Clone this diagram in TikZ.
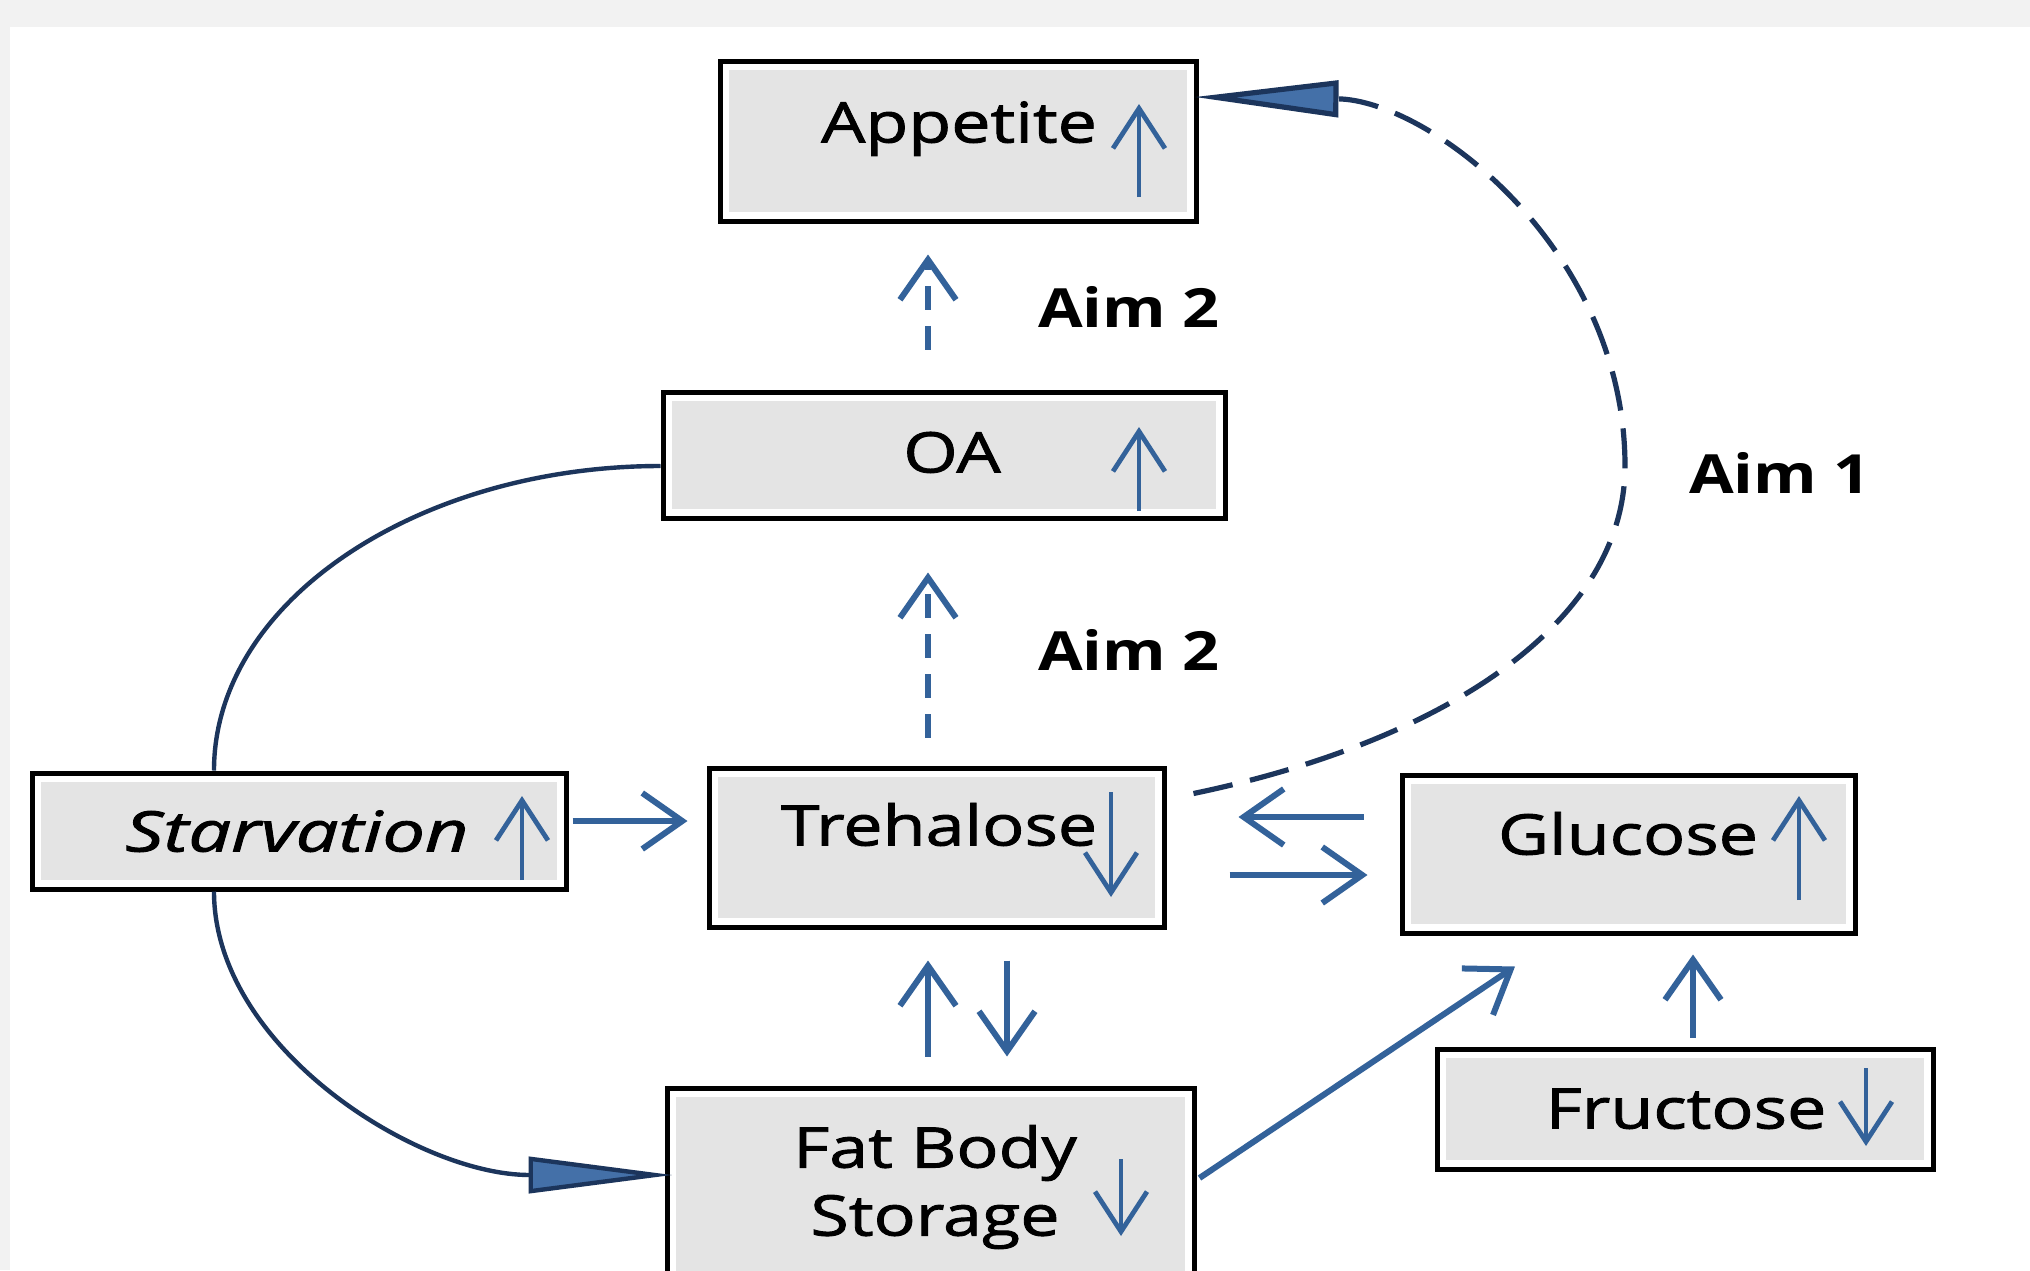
\documentclass[tikz,border=0pt]{standalone}
\usepackage{fontspec}
\usepackage{graphicx}
\setmainfont{Open Sans}[FakeStretch=1.2]
\newfontfamily\boxfont{Open Sans}[FakeStretch=1.25, FakeBold=1.6]
\usetikzlibrary{arrows.meta,calc}
\definecolor{bgray}{HTML}{F2F2F2}
\definecolor{boxgray}{HTML}{E4E4E4}
\definecolor{arrblue}{HTML}{33629A}
\definecolor{navy}{HTML}{1C355C}
\definecolor{headblue}{HTML}{4470A8}
\tikzset{
  box/.style={draw=black, line width=2.5pt, fill=white, inner sep=0pt,
    path picture={\fill[boxgray] ([shift={(4.5pt,-4.5pt)}]path picture bounding box.north west) rectangle ([shift={(-4.5pt,4.5pt)}]path picture bounding box.south east);}},
  txt/.style={font=\boxfont\fontsize{28}{34}\selectfont, anchor=base, inner sep=0pt, text=black},
  itxt/.style={font=\boxfont\fontsize{28}{34}\selectfont\itshape, anchor=base, inner sep=0pt, text=black},
  aim/.style={font=\fontsize{27}{32}\selectfont\bfseries, anchor=base, inner sep=0pt, text=black},
  inarrow/.style={draw=arrblue, line width=2.4pt, -{Straight Barb[length=20pt,width=26pt]}},
  barrow/.style={draw=arrblue, line width=3pt, -{Straight Barb[length=20pt,width=28pt]}},
  darrow/.style={draw=arrblue, line width=3pt, dash pattern=on 12pt off 8pt, -{Straight Barb[length=20pt,width=28pt]}},
  curve/.style={draw=navy, line width=2.2pt},
  dcurve/.style={draw=navy, line width=2.6pt, dash pattern=on 20pt off 9pt},
  bighead/.style={-{Triangle[length=72pt,width=18pt,fill=headblue]}}
}
\begin{document}
\begin{tikzpicture}[x=0.5pt,y=-0.5pt]
\clip (0,0) rectangle (2030,1270);
\fill[bgray] (0,0) rectangle (2030,1270);
\fill[white] (10,27) rectangle (2030,1270);

% boxes
\node[box, minimum width=238pt, minimum height=80pt] (app) at (958,141) {};
\node[box, minimum width=281pt, minimum height=63pt] (oa) at (944,455) {};
\node[box, minimum width=267pt, minimum height=58pt] (starv) at (299,831) {};
\node[box, minimum width=227.5pt, minimum height=79.5pt] (treh) at (936.5,847.5) {};
\node[box, minimum width=226.5pt, minimum height=79pt] (gluc) at (1628.5,854) {};
\node[box, minimum width=248pt, minimum height=60pt] (fruct) at (1685,1109) {};
\node[box, minimum width=263.5pt, minimum height=101pt] (fat) at (930.5,1189) {};

% texts
\node[txt] (appT) at (959,142.5) {Appetite};
\node[txt] (oaT) at (952,472.5) {OA};
\node[itxt] (starvT) at (297,851.5) {\scalebox{1.08}[1]{Starvation}};
\node[txt] (trehT) at (939,845.5) {Trehalose};
\node[txt] (glucT) at (1628,854.5) {Glucose};
\node[txt] (fructT) at (1686,1128.5) {Fructose};
\node[txt, align=center, anchor=center] (fatT) at (935,1187) {Fat Body\\Storage};
\node[aim] (aim2a) at (1129,327.5) {Aim 2};
\node[aim] (aim2b) at (1129,670.5) {Aim 2};
\node[aim] (aim1) at (1780,493.5) {Aim 1};

% indicator arrows inside boxes
\draw[inarrow] (1139,197) -- (1139,104);
\draw[inarrow] (1139,511) -- (1139,427);
\draw[inarrow] (522,880) -- (522,796);
\draw[inarrow] (1111,792) -- (1111,897);
\draw[inarrow] (1799,900) -- (1799,796);
\draw[inarrow] (1866,1068) -- (1866,1146);
\draw[inarrow] (1121,1159) -- (1121,1236);

% connectors
\draw[barrow] ($(starv.east)+(4,-10)$) -- ($(treh.west)+(-19,-26.5)$);
\draw[barrow] ($(gluc.west)+(-36,-37)$) -- ($(treh.east)+(72,-30.5)$);
\draw[barrow] ($(treh.east)+(63,27.5)$) -- ($(gluc.west)+(-32,21)$);
\draw[barrow] ($(fat.north)+(-2.5,-29)$) -- ($(treh.south)+(-8.5,31)$);
\draw[barrow] ($(treh.south)+(70.5,31)$) -- ($(fat.north)+(76.5,-29)$);
\draw[barrow] ($(fat.east)+(3,-11)$) -- ($(gluc.south)+(-113.5,31)$);
\draw[barrow] ($(fruct.north)+(8,-9)$) -- ($(gluc.south)+(64.5,19)$);
\draw[darrow] ($(oa.north)+(-16,-40)$) -- ($(app.south)+(-30,31)$);
\draw[darrow] ($(treh.north)+(-8.5,-28)$) -- ($(oa.south)+(-16,52)$);

% curves
\draw[curve] ($(oa.west)+(0,11)$) .. controls (420,466) and (214,600) .. ($(starv.north)+(-85,0)$);
\draw[curve, bighead] ($(starv.south)+(-85,0)$) .. controls (214,1047) and (417,1175) .. ($(fat.west)+(8,-14)$);
\draw[dcurve, bighead] ($(treh.north east)+(27,28)$) .. controls (1450,740) and (1625,620) .. (1625,466) .. controls (1625,250) and (1430,100) .. ($(app.east)+(-4,-44)$);
\end{tikzpicture}
\end{document}
